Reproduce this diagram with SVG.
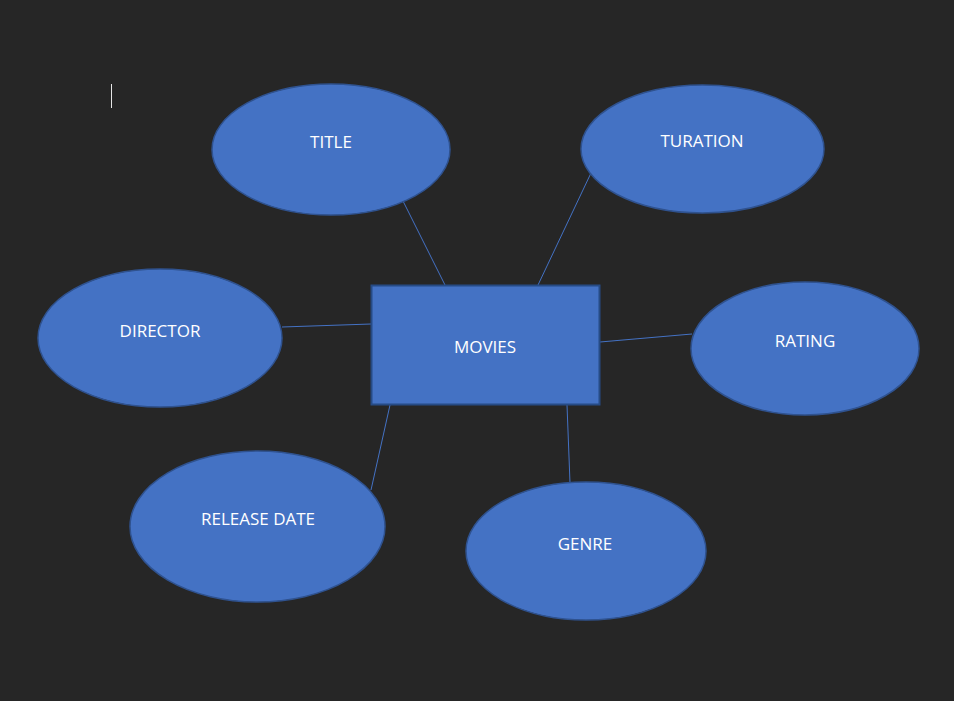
<svg xmlns="http://www.w3.org/2000/svg" width="954" height="701" viewBox="0 0 954 701">
<style>
.shape{fill:#4472C4;stroke:#2F528F;stroke-width:1.5}
.lbl{font-family:"Open Sans","Liberation Sans",sans-serif;font-size:17px;fill:#FFFFFF;text-anchor:middle;dominant-baseline:central}
.conn line{stroke:#4472C4;stroke-width:1}
</style>
<rect width="954" height="701" fill="#262626"/>
<line x1="111.5" y1="84" x2="111.5" y2="108" stroke="#E6E6E6" stroke-width="1"/>
<g id="connectors" class="conn">
<line x1="403" y1="201" x2="445" y2="285"/>
<line x1="591" y1="173" x2="538" y2="285"/>
<line x1="282" y1="327" x2="371" y2="324"/>
<line x1="600" y1="342" x2="692" y2="334"/>
<line x1="390" y1="405" x2="371" y2="490"/>
<line x1="567" y1="405" x2="570" y2="483"/>
</g>
<g id="movies">
<rect class="shape" x="371.5" y="285.5" width="228" height="119" style="stroke:#264B85;stroke-width:2"/>
<text class="lbl" x="485" y="346">MOVIES</text>
</g>
<g id="title">
<ellipse class="shape" cx="331" cy="149.5" rx="119" ry="65.5"/>
<text class="lbl" x="331" y="141">TITLE</text>
</g>
<g id="turation">
<ellipse class="shape" cx="702.5" cy="149" rx="121.5" ry="64"/>
<text class="lbl" x="702" y="140">TURATION</text>
</g>
<g id="director">
<ellipse class="shape" cx="160" cy="338" rx="122" ry="69"/>
<text class="lbl" x="160" y="330">DIRECTOR</text>
</g>
<g id="rating">
<ellipse class="shape" cx="805" cy="348.5" rx="114" ry="66.5"/>
<text class="lbl" x="805" y="340">RATING</text>
</g>
<g id="release-date">
<ellipse class="shape" cx="257.5" cy="526.5" rx="127.5" ry="75.5"/>
<text class="lbl" x="258" y="518">RELEASE DATE</text>
</g>
<g id="genre">
<ellipse class="shape" cx="586" cy="551" rx="120" ry="69"/>
<text class="lbl" x="585" y="543">GENRE</text>
</g>
</svg>
